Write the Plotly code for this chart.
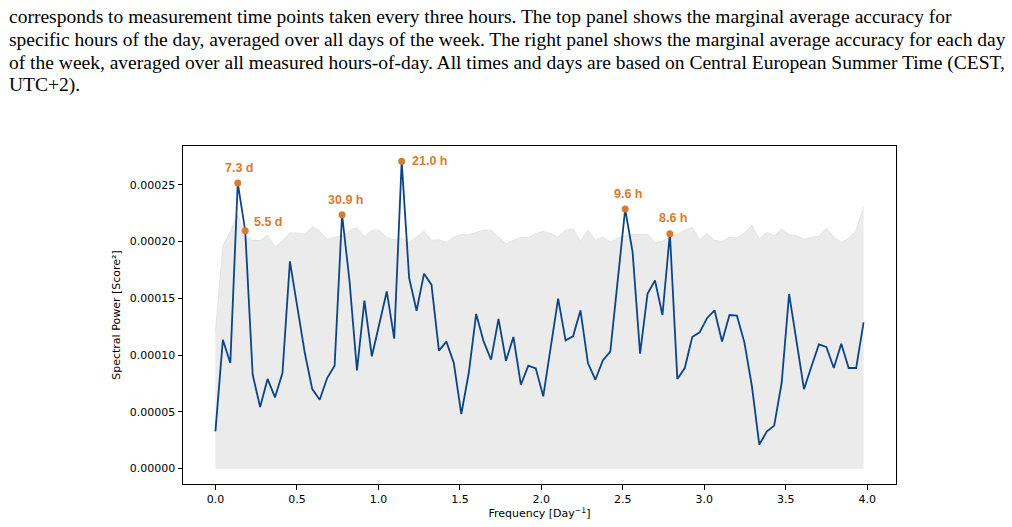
import plotly.graph_objects as go

# ---------------- data ----------------
freq = [0.0, 0.0457, 0.0914, 0.1371, 0.1829, 0.2286, 0.2743, 0.32, 0.3657, 0.4114,
        0.4571, 0.5029, 0.5486, 0.5943, 0.64, 0.6857, 0.7314, 0.7771, 0.8229, 0.8686,
        0.9143, 0.96, 1.0057, 1.0514, 1.0971, 1.1429, 1.1886, 1.2343, 1.28, 1.3257,
        1.3714, 1.4171, 1.4629, 1.5086, 1.5543, 1.6, 1.6457, 1.6914, 1.7371, 1.7829,
        1.8286, 1.8743, 1.92, 1.9657, 2.0114, 2.0571, 2.1029, 2.1486, 2.1943, 2.24,
        2.2857, 2.3314, 2.3771, 2.4229, 2.4686, 2.5143, 2.56, 2.6057, 2.6514, 2.6971,
        2.7429, 2.7886, 2.8343, 2.88, 2.9257, 2.9714, 3.0171, 3.0629, 3.1086, 3.1543,
        3.2, 3.2457, 3.2914, 3.3371, 3.3829, 3.4286, 3.4743, 3.52, 3.5657, 3.6114,
        3.6571, 3.7029, 3.7486, 3.7943, 3.84, 3.8857, 3.9314, 3.9771]

power = [3.28e-5, 1.135e-4, 9.30e-5, 2.515e-4, 2.095e-4, 8.27e-5, 5.43e-5, 7.9e-5, 6.28e-5, 8.42e-5,
         1.825e-4, 1.43e-4, 1.018e-4, 7.0e-5, 6.07e-5, 7.98e-5, 9.07e-5, 2.236e-4, 1.65e-4, 8.65e-5,
         1.479e-4, 9.89e-5, 1.27e-4, 1.56e-4, 1.144e-4, 2.706e-4, 1.679e-4, 1.39e-4, 1.717e-4, 1.62e-4,
         1.039e-4, 1.118e-4, 9.3e-5, 4.81e-5, 8.4e-5, 1.362e-4, 1.12e-4, 9.6e-5, 1.318e-4, 9.5e-5,
         1.159e-4, 7.39e-5, 9.07e-5, 8.83e-5, 6.37e-5, 1.077e-4, 1.497e-4, 1.13e-4, 1.165e-4, 1.393e-4,
         9.3e-5, 7.83e-5, 9.53e-5, 1.03e-4, 1.68e-4, 2.286e-4, 1.904e-4, 1.012e-4, 1.54e-4, 1.658e-4,
         1.353e-4, 2.069e-4, 7.9e-5, 8.86e-5, 1.159e-4, 1.2e-4, 1.327e-4, 1.393e-4, 1.12e-4, 1.353e-4,
         1.347e-4, 1.112e-4, 7.3e-5, 2.11e-5, 3.26e-5, 3.79e-5, 7.54e-5, 1.538e-4, 1.12e-4, 7.0e-5,
         9.0e-5, 1.094e-4, 1.071e-4, 8.86e-5, 1.1e-4, 8.86e-5, 8.86e-5, 1.288e-4]

threshold = [1.2e-4, 1.96e-4, 2.09e-4, 2.236e-4, 2.05e-4, 2.01e-4, 2.01e-4, 2.055e-4, 1.95e-4, 2.005e-4,
             2.075e-4, 2.075e-4, 2.063e-4, 2.133e-4, 2.09e-4, 2.02e-4, 2.038e-4, 2.047e-4, 2.095e-4, 2.124e-4,
             2.04e-4, 2.1e-4, 2.1e-4, 2.036e-4, 2.016e-4, 2.03e-4, 1.99e-4, 2.04e-4, 2.09e-4, 2.01e-4,
             2.016e-4, 1.99e-4, 2.04e-4, 2.06e-4, 2.06e-4, 2.08e-4, 2.1e-4, 2.1e-4, 2.04e-4, 1.98e-4,
             2.01e-4, 2.036e-4, 2.036e-4, 2.07e-4, 2.09e-4, 2.07e-4, 2.04e-4, 2.1e-4, 2.11e-4, 2.0e-4,
             2.1e-4, 2.01e-4, 2.04e-4, 1.995e-4, 2.03e-4, 2.05e-4, 2.06e-4, 2.06e-4, 2.065e-4, 1.99e-4,
             2.0e-4, 2.045e-4, 2.06e-4, 2.1e-4, 2.125e-4, 2.016e-4, 2.07e-4, 2.01e-4, 2.0e-4, 2.04e-4,
             2.03e-4, 2.075e-4, 2.144e-4, 2.02e-4, 2.08e-4, 2.05e-4, 2.11e-4, 2.06e-4, 2.05e-4, 2.02e-4,
             2.036e-4, 2.045e-4, 2.115e-4, 2.04e-4, 1.99e-4, 2.03e-4, 2.095e-4, 2.304e-4]

peak_index = [3, 4, 17, 25, 55, 61]
peak_labels = ["7.3 d", "5.5 d", "30.9 h", "21.0 h", "9.6 h", "8.6 h"]

x_ticks = [0.0, 0.5, 1.0, 1.5, 2.0, 2.5, 3.0, 3.5, 4.0]
y_ticks = [0.0, 0.00005, 0.00010, 0.00015, 0.00020, 0.00025]

caption_lines = [
    "corresponds to measurement time points taken every three hours. The top panel shows the marginal average accuracy for",
    "specific hours of the day, averaged over all days of the week. The right panel shows the marginal average accuracy for each day",
    "of the week, averaged over all measured hours-of-day. All times and days are based on Central European Summer Time (CEST,",
    "UTC+2).",
]

# ---------------- styling ----------------
W, H = 1012, 527
L, R, T, B = 183, 896, 146, 484
BLUE = "#0b4586"
ORANGE = "#d97b2c"
FONT = "DejaVu Sans"

fig = go.Figure()

fig.add_trace(go.Scatter(
    x=freq, y=threshold, mode="lines", fill="tozeroy",
    line=dict(color="#e4e4e4", width=1), fillcolor="#ebebeb",
    hoverinfo="skip", showlegend=False))

fig.add_trace(go.Scatter(
    x=freq, y=power, mode="lines",
    line=dict(color=BLUE, width=1.8), showlegend=False))

fig.add_trace(go.Scatter(
    x=[freq[i] for i in peak_index], y=[power[i] for i in peak_index],
    mode="markers", marker=dict(color=ORANGE, size=7), showlegend=False))

# label placement (anchor, xshift, yshift) per peak
placement = [("center", 2, 15), ("left", 7, 9), ("center", 3.5, 15),
             ("left", 8.5, 0), ("center", 3.5, 15), ("center", 3.5, 16)]
annotations = []
for idx, lab, (anc, xs, ys) in zip(peak_index, peak_labels, placement):
    annotations.append(dict(
        x=freq[idx], y=power[idx], xref="x", yref="y", text="<b>%s</b>" % lab,
        showarrow=False, xanchor=anc, yanchor="middle", xshift=xs, yshift=ys,
        font=dict(family="Liberation Sans", size=12.5, color=ORANGE)))

pw, ph = R - L, B - T
caption_y = [17, 40, 63, 85]
for line, yc in zip(caption_lines, caption_y):
    annotations.append(dict(
        x=(7 - L) / pw, y=(B - yc) / ph, xref="paper", yref="paper",
        text=line, showarrow=False, xanchor="left", yanchor="middle",
        font=dict(family="Liberation Serif", size=19.5, color="black")))

axis_common = dict(
    showline=True, linecolor="black", linewidth=1, mirror=True,
    ticks="outside", ticklen=4.5, tickwidth=1, tickcolor="black",
    showgrid=False, zeroline=False,
    tickfont=dict(family=FONT, size=11, color="black"),
)

fig.update_layout(
    width=W, height=H, autosize=False,
    margin=dict(l=L, r=W - R, t=T, b=H - B, pad=0),
    paper_bgcolor="white", plot_bgcolor="white",
    xaxis=dict(range=[-0.1989, 4.176], tickvals=x_ticks, tickformat=".1f",
               title=dict(text="Frequency [Day<sup>−1</sup>]", standoff=4,
                          font=dict(family=FONT, size=11, color="black")),
               automargin=False, **axis_common),
    yaxis=dict(range=[-1.353e-5, 2.841e-4], tickvals=y_ticks, tickformat=".5f",
               title=dict(text="Spectral Power [Score²]", standoff=6,
                          font=dict(family=FONT, size=11, color="black")),
               automargin=False, **axis_common),
    annotations=annotations,
    showlegend=False,
)

fig.write_html("out.html")
